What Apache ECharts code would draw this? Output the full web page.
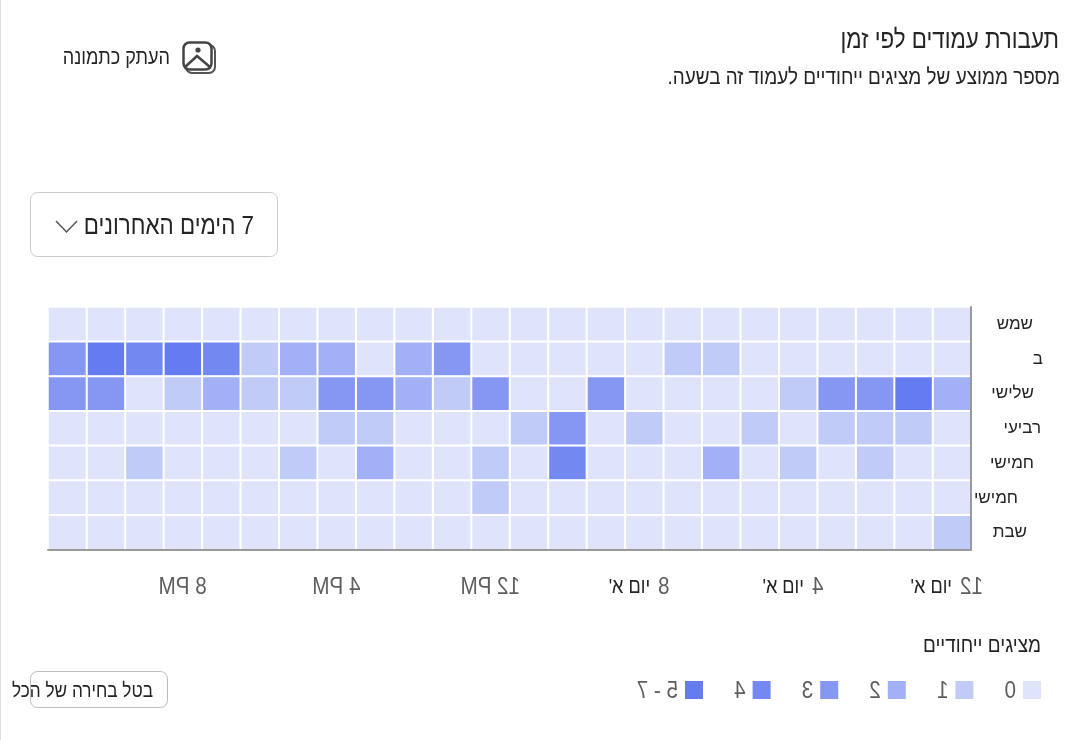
<!DOCTYPE html>
<html lang="he">
<head>
<meta charset="utf-8">
<style>html,body{margin:0;padding:0;background:#fff}#c{width:1076px;height:740px}</style>
<script src="https://cdn.jsdelivr.net/npm/echarts@6/dist/echarts.min.js"></script>
</head>
<body>
<div id="c"></div>
<script>
// Data: each row runs from hour 0 to hour 23
const hours = ['0','1','2','3','4','5','6','7','8','9','10','11','12','13','14','15','16','17','18','19','20','21','22','23'];
const dayNames = ['שמש','ב','שלישי','רביעי','חמישי','חמישי','שבת'];
const sunday    = [0,0,0,0,0,0,0,0,0,0,0,0,0,0,0,0,0,0,0,0,0,0,0,0];
const monday    = [0,0,0,0,0,0,1,1,0,0,0,0,0,3,2,0,2,2,1,4,5,4,5,3];
const tuesday   = [2,5,3,3,1,0,0,0,0,3,0,0,3,1,2,3,3,1,1,2,1,0,3,3];
const wednesday = [0,1,1,1,0,1,0,0,1,0,3,1,0,0,0,1,1,0,0,0,0,0,0,0];
const thursday  = [0,0,1,0,1,0,2,0,0,0,4,0,1,0,0,2,0,1,0,0,0,1,0,0];
const friday    = [0,0,0,0,0,0,0,0,0,0,0,0,1,0,0,0,0,0,0,0,0,0,0,0];
const saturday  = [1,0,0,0,0,0,0,0,0,0,0,0,0,0,0,0,0,0,0,0,0,0,0,0];
const rows = [sunday,monday,tuesday,wednesday,thursday,friday,saturday];

const tickHours = [0,4,8,12,16,20];
const tickNumbers = ['12','4','8','12','4','8'];
const tickSuffixes = ["יום א'","יום א'","יום א'",'PM','PM','PM'];

const legendLabels = ['0','1','2','3','4','5 - 7'];
const legendMin = [0,1,2,3,4,5];
const legendMax = [0,1,2,3,4,7];
const palette = ['#E0E4FA','#C0CBF8','#A2B1F5','#8597F3','#7389F1','#647CF0'];

const titleText = 'תעבורת עמודים לפי זמן';
const subtitleText = 'מספר ממוצע של מציגים ייחודיים לעמוד זה בשעה.\u200F';
const copyText = 'העתק כתמונה';
const rangeText = '\u200F7 הימים האחרונים';
const legendTitle = 'מציגים ייחודיים';
const clearText = 'בטל בחירה של הכל';

const FONT = 'Liberation Sans';
const dayPad = [10,0,9,2,9,25,16];
const SQ = 0.86; // the reference's lettering is narrow and tall
const heat = [];
rows.forEach((r,y)=>r.forEach((v,x)=>heat.push([x,y,v])));

const chart = echarts.init(document.getElementById('c'), null, {renderer:'canvas'});
chart.setOption({
  animation:false,
  backgroundColor:'#fff',
  grid:{left:48,right:105,top:307,bottom:190,outerBoundsMode:'none'},
  xAxis:{type:'category',data:hours,inverse:true,position:'bottom',z:10,
    axisLine:{show:true,onZero:false,lineStyle:{color:'#999',width:2}},axisTick:{show:false},axisLabel:{show:false},splitLine:{show:false},splitArea:{show:false}},
  yAxis:{type:'category',position:'right',inverse:true,z:10,
    data:dayNames.map((d,i)=>({value:d,textStyle:{align:'right',padding:[6,dayPad[i],0,0]}})),
    axisLine:{show:true,onZero:false,lineStyle:{color:'#999',width:2}},axisTick:{show:false},splitLine:{show:false},splitArea:{show:false},
    axisLabel:{margin:72,align:'right',fontSize:17,color:'#252423',fontFamily:FONT}},
  visualMap:{show:false,type:'piecewise',dimension:2,seriesIndex:0,
    pieces:legendMin.map((m,i)=>({min:m,max:legendMax[i],color:palette[i]}))},
  series:[{type:'heatmap',data:heat,itemStyle:{borderColor:'#fff',borderWidth:2},emphasis:{disabled:true},label:{show:false}}]
});

const ctx = document.createElement('canvas').getContext('2d');
const widthOf = (t,size)=>{ctx.font=size+'px "'+FONT+'"';return ctx.measureText(t).width*SQ;};
const g = [];
const txt = (text,x,y,size,fill,align,flip)=>g.push({type:'text',x:x,y:y,silent:true,scaleX:(flip?-SQ:SQ),
  style:{text:text,fontSize:size,fontFamily:FONT,fill:fill,align:align||'right',verticalAlign:'middle'}});
const mirror = (text,rightEdge,y,size,fill)=>txt(text,rightEdge,y,size,fill,'left',true);

// page chrome
g.push({type:'line',shape:{x1:0.5,y1:0,x2:0.5,y2:740},style:{stroke:'#ddd',lineWidth:1},silent:true});
txt(titleText,1059,41,26,'#252423');
txt(subtitleText,1060,78,22,'#252423');
txt(copyText,170,58,21,'#252423');
g.push({type:'rect',shape:{x:186,y:45,width:29,height:28,r:6},style:{fill:'none',stroke:'#555',lineWidth:2},silent:true});
g.push({type:'rect',shape:{x:183.5,y:42.5,width:28,height:27,r:6},style:{fill:'#fff',stroke:'#444',lineWidth:2.5},silent:true});
g.push({type:'circle',shape:{cx:198,cy:50,r:2.6},style:{fill:'#444'},silent:true});
g.push({type:'polyline',shape:{points:[[185,67],[197,56],[210,67]]},style:{fill:'none',stroke:'#444',lineWidth:2.5},silent:true});

g.push({type:'rect',shape:{x:30.5,y:192.5,width:247,height:64,r:7},style:{fill:'#fff',stroke:'#ccc',lineWidth:1},silent:true});
txt(rangeText,254,227,26,'#252423');
g.push({type:'polyline',shape:{points:[[56,221],[66.5,232],[77,221]]},style:{fill:'none',stroke:'#555',lineWidth:1.5},silent:true});

// axis tick labels, placed through the x scale
tickHours.forEach((h,i)=>{
  const px = chart.convertToPixel({xAxisIndex:0},h);
  const y = 587;
  if (tickSuffixes[i]==='PM') {
    const t = tickNumbers[i]+' '+tickSuffixes[i];
    mirror(t,px+widthOf(t,24)/2,y,24,'#605E5C');
  } else {
    const nw = widthOf(tickNumbers[i],24), hw = widthOf(tickSuffixes[i],21), gap = 8;
    const left = px-5-(nw+hw+gap)/2;
    txt(tickSuffixes[i]+'\u200F',left+hw,y,21,'#252423');
    mirror(tickNumbers[i],left+hw+gap+nw,y,24,'#605E5C');
  }
});

// legend
txt(legendTitle,1041,646,22,'#252423');
legendLabels.forEach((l,i)=>{
  const right = 1041-i*67.6;
  g.push({type:'rect',shape:{x:right-18,y:681,width:18,height:18},style:{fill:palette[i]},silent:true});
  mirror(l,right-25,691,24,'#605E5C');
});

g.push({type:'rect',shape:{x:30.5,y:671.5,width:137,height:36,r:7},style:{fill:'none',stroke:'#bbb',lineWidth:1},silent:true});
txt(clearText,153,691,20,'#252423');

chart.setOption({graphic:{elements:g}});
</script>
</body>
</html>
